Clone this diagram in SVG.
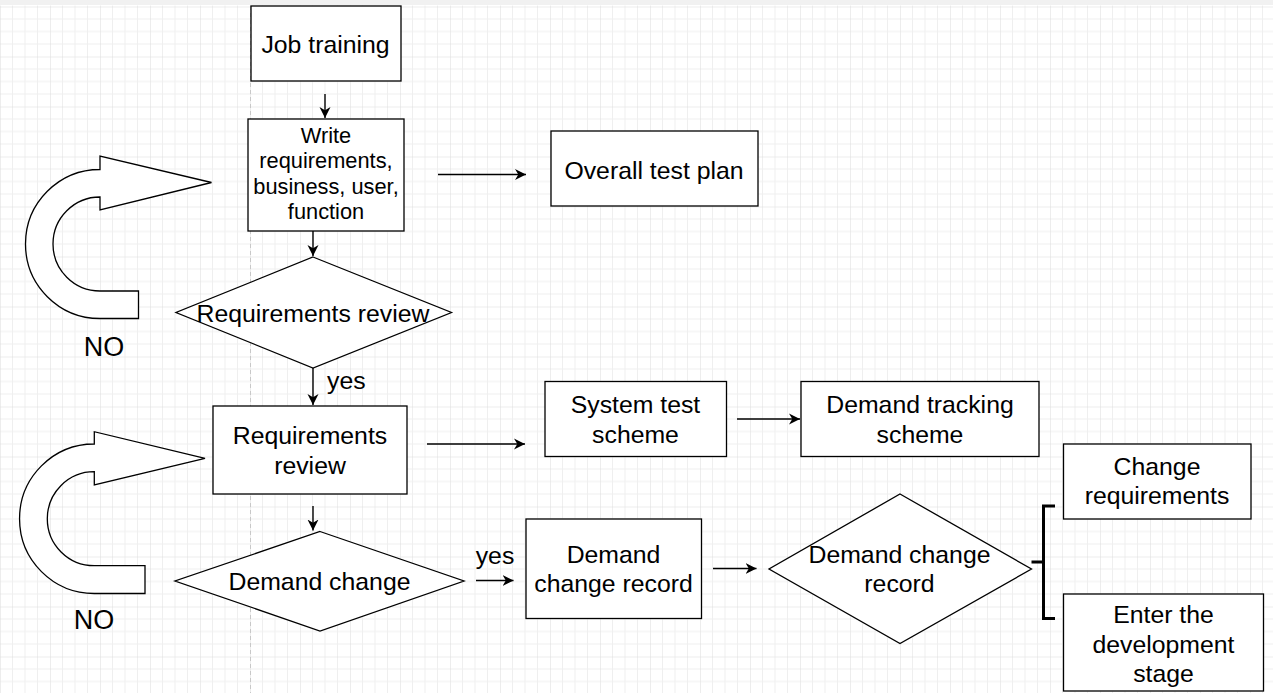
<svg xmlns="http://www.w3.org/2000/svg" width="1273" height="693" viewBox="0 0 1273 693">
  <defs>
    <pattern id="grid" patternUnits="userSpaceOnUse" x="0" y="6.5" width="50" height="50">
      <path d="M12.5 0V50M25 0V50M37.5 0V50M0 12.5H50M0 25H50M0 37.5H50" fill="none" stroke="#efefef" stroke-width="1"/>
      <path d="M0 0V50M0 0H50" fill="none" stroke="#dcdcdc" stroke-width="1"/>
    </pattern>
    <marker id="arr" markerUnits="userSpaceOnUse" markerWidth="12" markerHeight="12" refX="11" refY="5.5" orient="auto" viewBox="0 0 12 11">
      <path d="M11 5.5L0 0L3.3 5.5L0 11Z" fill="#000"/>
    </marker>
    <style>
      .box{fill:#fff;stroke:#000;stroke-width:1.3}
      .con{fill:none;stroke:#000;stroke-width:1.4;marker-end:url(#arr)}
      .uarr{fill:#fff;stroke:#000;stroke-width:1.3}
      text{font-family:"Liberation Sans",Arial,sans-serif;fill:#000;text-anchor:middle}
      .t24{font-size:24.8px}
      .t21{font-size:21.8px}
      .t27{font-size:27px}
    </style>
  </defs>

  <rect x="0" y="0" width="1273" height="693" fill="#fff"/>
  <rect x="0" y="0" width="1273" height="5" fill="#f1f1f1"/>
  <rect x="0" y="5.5" width="1273" height="688" fill="url(#grid)"/>
  <line x1="250.5" y1="6" x2="250.5" y2="693" stroke="#c8c8c8" stroke-width="1" stroke-dasharray="4 3"/>

  <g id="connectors">
    <line class="con" x1="325" y1="94" x2="325" y2="118"/>
    <line class="con" x1="313" y1="231" x2="313" y2="256"/>
    <line class="con" x1="438" y1="174.5" x2="526" y2="174.5"/>
    <line class="con" x1="313" y1="368" x2="313" y2="405"/>
    <line class="con" x1="427" y1="444" x2="525" y2="444"/>
    <line class="con" x1="737" y1="419" x2="800" y2="419"/>
    <line class="con" x1="313" y1="506" x2="313" y2="530.5"/>
    <line class="con" x1="476" y1="580.5" x2="513.5" y2="580.5"/>
    <line class="con" x1="713" y1="568.5" x2="756.5" y2="568.5"/>
    <text class="t24" x="327" y="389" style="text-anchor:start">yes</text>
    <text class="t24" x="495" y="564">yes</text>
  </g>

  <g id="no-loop-1">
    <path class="uarr" d="M100 169.5A74.5 74.5 0 0 0 100 318.5L138.5 318.5L138.5 291L100 291A47 47 0 0 1 100 197L100 210L211.5 182.5L100 156Z"/>
    <text class="t27" x="104" y="356">NO</text>
  </g>

  <g id="no-loop-2">
    <path class="uarr" d="M94.3 444A74.7 74.7 0 0 0 94.3 593.5L145 593.5L145 565.7L94.3 565.7A47 47 0 0 1 94.3 471.7L94.3 485L205 458.3L94.3 431.7Z"/>
    <text class="t27" x="94" y="628.5">NO</text>
  </g>

  <g id="job-training">
    <rect class="box" x="251" y="6" width="150" height="75"/>
    <text class="t24" x="325.5" y="52.5">Job training</text>
  </g>

  <g id="write-requirements">
    <rect class="box" x="248" y="119" width="156" height="112"/>
    <text class="t21" x="326" y="142.5">Write</text>
    <text class="t21" x="326" y="168">requirements,</text>
    <text class="t21" x="326" y="193.5">business, user,</text>
    <text class="t21" x="326" y="219">function</text>
  </g>

  <g id="overall-test-plan">
    <rect class="box" x="551" y="131" width="207" height="75"/>
    <text class="t24" x="654" y="178.5">Overall test plan</text>
  </g>

  <g id="requirements-review-decision">
    <polygon class="box" points="313,257 451.5,312.5 313,368 176,312.5"/>
    <text class="t24" x="313" y="321.5">Requirements review</text>
  </g>

  <g id="requirements-review">
    <rect class="box" x="213" y="406" width="194" height="88"/>
    <text class="t24" x="310" y="444">Requirements</text>
    <text class="t24" x="310" y="474">review</text>
  </g>

  <g id="system-test-scheme">
    <rect class="box" x="545" y="381.5" width="181.5" height="75"/>
    <text class="t24" x="635.5" y="413">System test</text>
    <text class="t24" x="635.5" y="442.5">scheme</text>
  </g>

  <g id="demand-tracking-scheme">
    <rect class="box" x="801" y="381.5" width="238" height="75"/>
    <text class="t24" x="920" y="413">Demand tracking</text>
    <text class="t24" x="920" y="442.5">scheme</text>
  </g>

  <g id="demand-change">
    <polygon class="box" points="320,531.5 464,581 320,631 175,581"/>
    <text class="t24" x="319.5" y="589.5">Demand change</text>
  </g>

  <g id="demand-change-record-box">
    <rect class="box" x="526" y="519" width="175.5" height="99.5"/>
    <text class="t24" x="613.5" y="563">Demand</text>
    <text class="t24" x="613.5" y="592">change record</text>
  </g>

  <g id="demand-change-record-decision">
    <polygon class="box" points="900,494 1031.5,569 900,643.5 769,569"/>
    <text class="t24" x="899.5" y="562.5">Demand change</text>
    <text class="t24" x="899.5" y="592">record</text>
  </g>

  <g id="bracket">
    <path d="M1055 506H1043.5V618.5H1055M1031.5 562H1043.5" fill="none" stroke="#000" stroke-width="3"/>
  </g>

  <g id="change-requirements">
    <rect class="box" x="1063.5" y="444" width="187.5" height="75"/>
    <text class="t24" x="1157" y="474.5">Change</text>
    <text class="t24" x="1157" y="504">requirements</text>
  </g>

  <g id="enter-development-stage">
    <rect class="box" x="1063.5" y="594" width="200" height="97"/>
    <text class="t24" x="1163.5" y="622.5">Enter the</text>
    <text class="t24" x="1163.5" y="652.5">development</text>
    <text class="t24" x="1163.5" y="682">stage</text>
  </g>
</svg>
